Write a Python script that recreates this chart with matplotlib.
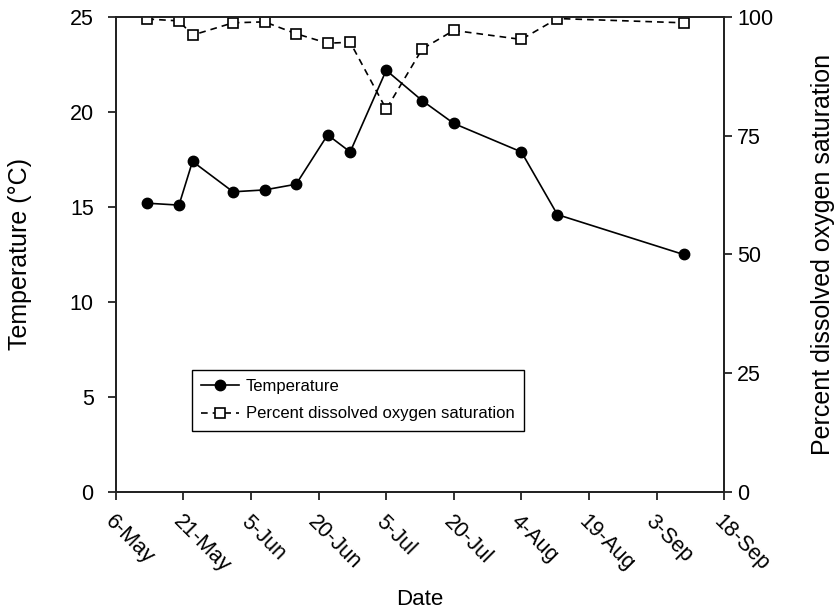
import datetime as dt
import matplotlib
matplotlib.use('Agg')
import matplotlib.pyplot as plt

plt.rcParams['font.family'] = ['Liberation Sans', 'DejaVu Sans']

dates = ['2010-05-13', '2010-05-20', '2010-05-23', '2010-06-01', '2010-06-08',
         '2010-06-15', '2010-06-22', '2010-06-27', '2010-07-05', '2010-07-13',
         '2010-07-20', '2010-08-04', '2010-08-12', '2010-09-09']
temperature = [15.2, 15.1, 17.4, 15.8, 15.9, 16.2, 18.8, 17.9, 22.2, 20.6,
               19.4, 17.9, 14.6, 12.5]
oxygen_sat = [99.6, 99.2, 96.2, 98.8, 99.0, 96.5, 94.5, 94.7, 80.6, 93.3,
              97.2, 95.3, 99.7, 98.8]

x = [dt.datetime.strptime(d, '%Y-%m-%d') for d in dates]
start = dt.datetime(2010, 5, 6)
end = dt.datetime(2010, 9, 18)
tick_dates = [start + dt.timedelta(days=15 * i) for i in range(10)]

fig = plt.figure(figsize=(8.4, 6.11), dpi=100)
ax = fig.add_axes([0.138, 0.195, 0.724, 0.777])
ax2 = ax.twinx()

l1, = ax.plot(x, temperature, color='black', lw=1.2, marker='o', ms=7.5,
              label='Temperature')
l2, = ax2.plot(x, oxygen_sat, color='black', lw=1.2, ls=(0, (4, 3)),
               marker='s', ms=6.5, mfc='white', mec='black', mew=1.2,
               label='Percent dissolved oxygen saturation')

ax.set_xlim(start, end)
ax.set_ylim(0, 25)
ax2.set_ylim(0, 100)
ax.set_yticks([0, 5, 10, 15, 20, 25])
ax2.set_yticks([0, 25, 50, 75, 100])
ax.set_xticks(tick_dates)
ax.set_xticklabels([d.strftime('%-d-%b') for d in tick_dates], rotation=-45,
                   ha='left', va='top', rotation_mode='anchor')

for a in (ax, ax2):
    for s in a.spines.values():
        s.set_linewidth(1.3)
        s.set_color('#222222')
    a.tick_params(direction='out', length=6, width=1.3, colors='#222222',
                  labelsize=15.5, labelcolor='black')
ax.tick_params(axis='x', pad=8)
ax.tick_params(axis='y', pad=10)

ax.set_xlabel('Date', fontsize=16, labelpad=9)
ax.set_ylabel('Temperature (°C)', fontsize=18, labelpad=27)
ax2.set_ylabel('Percent dissolved oxygen saturation', fontsize=18, labelpad=27)

leg = ax.legend([l1, l2], [l1.get_label(), l2.get_label()],
                loc='lower left', bbox_to_anchor=(0.125, 0.129),
                borderaxespad=0, fancybox=False, framealpha=1,
                edgecolor='black', handlelength=2.3, handletextpad=0.4,
                borderpad=0.55, labelspacing=0.75, fontsize=12)
leg.get_frame().set_linewidth(1.0)

fig.savefig('out.png', dpi=100)
